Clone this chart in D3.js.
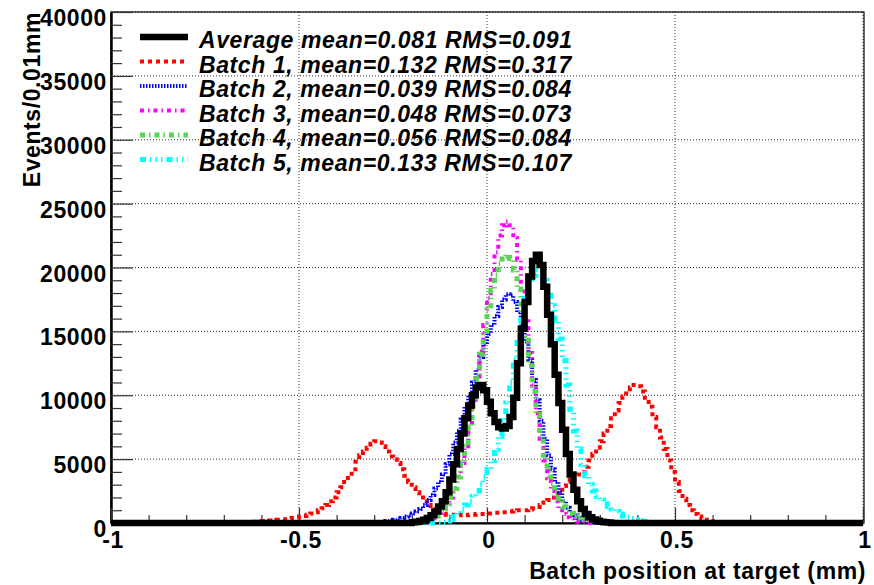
<!DOCTYPE html>
<html>
<head>
<meta charset="utf-8">
<script src="https://cdn.jsdelivr.net/npm/d3@7/dist/d3.min.js"></script>
<style>
  body { margin: 0; background: #fff; }
  svg { display: block; }
  text { font-family: "Liberation Sans", Arial, Helvetica, sans-serif; font-weight: bold; }
</style>
</head>
<body>
<svg id="chart" width="874" height="585"></svg>
<script>
// ---- data: events per 0.01 mm bin, listed from each series' first non-empty bin edge ----
const binWidth = 0.01;
const xDomain = [-1, 1];
const yDomain = [0, 40000];
const xTickValues = [-1, -0.5, 0, 0.5, 1];
const xTickLabels = ["-1", "-0.5", "0", "0.5", "1"];
const yTickValues = [0, 5000, 10000, 15000, 20000, 25000, 30000, 35000, 40000];
const yTickLabels = ["0", "5000", "10000", "15000", "20000", "25000", "30000", "35000", "40000"];
const xTitle = "Batch position at target (mm)";
const yTitle = "Events/0.01mm";

const seriesNames = ["Batch 1", "Batch 2", "Batch 3", "Batch 4", "Batch 5", "Average"];
const legendOrder = ["Average", "Batch 1", "Batch 2", "Batch 3", "Batch 4", "Batch 5"];
const legendLabels = [
  "Average mean=0.081 RMS=0.091",
  "Batch 1, mean=0.132 RMS=0.317",
  "Batch 2, mean=0.039 RMS=0.084",
  "Batch 3, mean=0.048 RMS=0.073",
  "Batch 4, mean=0.056 RMS=0.084",
  "Batch 5, mean=0.133 RMS=0.107"
];

const batch1Start = -0.65;
const batch1Values = [
  50, 50, 80, 100, 100, 150, 150, 200, 200, 250, 300, 300, 350, 400, 450,
  500, 550, 650, 750, 850, 1000, 1150, 1400, 1700, 2000,
  2400, 2800, 3200, 3700, 4200, 4800, 5300, 5600, 5900, 6200,
  6400, 6300, 6000, 5600, 5200, 5000, 4700, 4200, 3700, 3200,
  2800, 2400, 2000, 1700, 1400, 1100, 900, 800, 700, 650,
  650, 600, 600, 650, 600, 650, 650, 700, 700, 700,
  750, 750, 800, 800, 850, 850, 900, 950, 1000, 1000,
  1000, 1050, 1150, 1250, 1400, 1600, 1800, 2000, 2300, 2600,
  2900, 3200, 3400, 3600, 3800, 4000, 4400, 4900, 5400, 5900,
  6400, 7000, 7600, 8200, 8800, 9400, 9900, 10300, 10600, 10800,
  10700, 10300, 9800, 9100, 8300, 7500, 6700, 5800, 4900, 4000,
  3200, 2500, 1900, 1400, 1000, 700, 500, 350, 250, 150,
  100, 60, 30
];

const batch2Start = -0.30;
const batch2Values = [
  50, 80, 100, 150, 200, 250, 300, 400, 500, 600,
  750, 900, 1100, 1400, 1800, 2200, 2700, 3200, 3800, 4600,
  5400, 6300, 7200, 8100, 9100, 10000, 11000, 12000, 13000, 14000,
  14800, 15500, 16200, 16900, 17500, 17900, 17800, 17300, 16500, 15500,
  14200, 12800, 11200, 9600, 8000, 6600, 5300, 4200, 3200, 2400,
  1700, 1200, 850, 600, 400, 250, 150, 100, 50
];

const batch3Start = -0.18;
const batch3Values = [
  50, 100, 200, 350, 550, 800, 1100, 1500, 2000, 2700,
  3600, 4700, 6000, 7500, 9300, 11300, 13400, 15500, 17600, 19500,
  21200, 22500, 23300, 23600, 23300, 22300, 20600, 18300, 15800, 13300,
  10800, 8600, 6600, 4900, 3500, 2500, 1700, 1100, 700, 450,
  300, 180, 100, 50
];

const batch4Start = -0.18;
const batch4Values = [
  50, 100, 200, 350, 550, 800, 1100, 1500, 2000, 2700,
  3600, 4700, 6000, 7600, 9400, 11300, 13200, 15000, 16700, 18200,
  19400, 20300, 20900, 21000, 20700, 19800, 18300, 16400, 14300, 12300,
  10300, 8500, 6800, 5300, 4100, 3100, 2300, 1700, 1250, 950,
  750, 600, 500, 400, 300, 250, 200, 150, 100, 70,
  40
];

const batch5Start = -0.12;
const batch5Values = [
  50, 150, 300, 500, 800, 1100, 1400, 1700, 2100, 2500,
  3000, 3600, 4200, 4900, 5800, 6800, 8000, 9400, 11000, 12800,
  14600, 16200, 17600, 18700, 19400, 19800, 19700, 19000, 18200, 17000,
  15800, 14400, 12700, 10800, 8900, 7200, 5800, 4600, 3700, 3000,
  2500, 2100, 1800, 1500, 1300, 1100, 900, 700, 550, 450,
  350, 250, 180, 120, 80, 50, 30
];

const averageStart = -0.20;
const averageValues = [
  50, 100, 150, 250, 400, 600, 900, 1300, 1700, 2400,
  3400, 4600, 5800, 7000, 8200, 9200, 10000, 10600, 10800, 10400,
  9500, 8600, 7900, 7500, 7400, 7600, 8300, 9800, 12500, 15200,
  17300, 19300, 20500, 21000, 20200, 18500, 16300, 14000, 11600, 9400,
  7300, 5400, 3800, 2600, 1700, 1100, 700, 450, 280, 170,
  100, 60, 30
];

const seriesStarts = [batch1Start, batch2Start, batch3Start, batch4Start, batch5Start, averageStart];
const seriesValues = [batch1Values, batch2Values, batch3Values, batch4Values, batch5Values, averageValues];

// ---- line styles per series ----
const seriesStyles = {
  "Batch 1": { color: "#ff0000", width: 4, dash: "4,4" },
  "Batch 2": { color: "#0000ff", width: 4, dash: "1.5,1.5" },
  "Batch 3": { color: "#ff00ff", width: 4, dash: "4,4,1.5,4" },
  "Batch 4": { color: "#59d454", width: 5, dash: "5,4,1.5,4" },
  "Batch 5": { color: "#00ffff", width: 5, dash: "6,4,1.5,4,1.5,4,1.5,4" },
  "Average": { color: "#000000", width: 6.5, dash: null }
};

// ---- layout ----
const margin = { left: 111, right: 863, top: 12, bottom: 523 };
const fontSize = 23;
const letterSpacing = 0.6;

const svg = d3.select("#chart");
const x = d3.scaleLinear().domain(xDomain).range([margin.left, margin.right]);
const y = d3.scaleLinear().domain(yDomain).range([margin.bottom, margin.top]);

// full 200-bin histogram from a start edge and its listed contents
const nBins = Math.round((xDomain[1] - xDomain[0]) / binWidth);
function fullBins(start, values) {
  const bins = new Array(nBins).fill(0);
  const offset = Math.round((start - xDomain[0]) / binWidth);
  values.forEach((v, i) => { bins[offset + i] = v; });
  return bins;
}

// ---- grid ----
const gridX = xTickValues.filter(v => v > xDomain[0]);
const gridY = yTickValues.filter(v => v > yDomain[0]);
svg.append("g").selectAll("line").data(gridX).join("line")
  .attr("x1", d => x(d)).attr("x2", d => x(d))
  .attr("y1", margin.top).attr("y2", margin.bottom)
  .attr("stroke", "#333").attr("stroke-width", 1).attr("stroke-dasharray", "1,2");
svg.append("g").selectAll("line").data(gridY).join("line")
  .attr("x1", margin.left).attr("x2", margin.right)
  .attr("y1", d => y(d)).attr("y2", d => y(d))
  .attr("stroke", "#333").attr("stroke-width", 1).attr("stroke-dasharray", "1,2");

// ---- frame ----
svg.append("rect")
  .attr("x", margin.left).attr("y", margin.top)
  .attr("width", margin.right - margin.left + 1).attr("height", margin.bottom - margin.top)
  .attr("fill", "none").attr("stroke", "#000").attr("stroke-width", 1.2);

// ---- axes with inward ticks ----
const yAxis = d3.axisRight(y)
  .tickValues(d3.range(yDomain[0], yDomain[1] + 1, 1000))
  .tickSize(0).tickFormat("");
const gy = svg.append("g").attr("transform", `translate(${margin.left},0)`).call(yAxis);
gy.select(".domain").attr("stroke", "#000").attr("stroke-width", 2.5);
gy.selectAll(".tick line")
  .attr("x2", d => (d % 5000 === 0 ? 22 : 11))
  .attr("stroke", "#333").attr("stroke-width", 1.2);

const xAxis = d3.axisTop(x)
  .tickValues(d3.range(-10, 11).map(i => i / 10))
  .tickSize(0).tickFormat("");
const gx = svg.append("g").attr("transform", `translate(0,${margin.bottom})`).call(xAxis);
gx.select(".domain").attr("stroke", "#000").attr("stroke-width", 2);
gx.selectAll(".tick line")
  .attr("y2", d => (Math.abs(d * 2 - Math.round(d * 2)) < 1e-9 ? -15 : -8))
  .attr("stroke", "#333").attr("stroke-width", 1.2);

// ---- tick labels ----
svg.append("g").selectAll("text").data(yTickValues).join("text")
  .attr("x", margin.left - 4).attr("y", d => y(d) + 14)
  .attr("text-anchor", "end").attr("font-size", fontSize)
  .attr("letter-spacing", letterSpacing)
  .text((d, i) => yTickLabels[i]);
svg.append("g").selectAll("text").data(xTickValues).join("text")
  .attr("x", d => x(d) + 2).attr("y", margin.bottom + 25)
  .attr("text-anchor", "middle").attr("font-size", fontSize)
  .attr("letter-spacing", letterSpacing)
  .text((d, i) => xTickLabels[i]);

// ---- axis titles ----
svg.append("text")
  .attr("x", 866).attr("y", 579)
  .attr("text-anchor", "end").attr("font-size", fontSize)
  .attr("letter-spacing", letterSpacing)
  .text(xTitle);
svg.append("text")
  .attr("transform", `translate(40,${margin.top}) rotate(-90)`)
  .attr("text-anchor", "end").attr("font-size", fontSize)
  .attr("letter-spacing", letterSpacing)
  .text(yTitle);

// ---- step histograms ----
const line = d3.line()
  .x(d => x(d[0])).y(d => y(d[1]))
  .curve(d3.curveStepAfter);

const plot = svg.append("g");
seriesNames.forEach((name, si) => {
  const bins = fullBins(seriesStarts[si], seriesValues[si]);
  const pts = bins.map((v, i) => [xDomain[0] + i * binWidth, v]);
  pts.push([xDomain[1], bins[bins.length - 1]]);
  const st = seriesStyles[name];
  plot.append("path")
    .attr("d", line(pts))
    .attr("fill", "none")
    .attr("stroke", st.color)
    .attr("stroke-width", st.width)
    .attr("stroke-dasharray", st.dash)
    .attr("stroke-linejoin", "miter");
});

// ---- legend ----
const legend = svg.append("g");
legendOrder.forEach((name, i) => {
  const cy = 37 + i * 24.5;
  const st = seriesStyles[name];
  legend.append("line")
    .attr("x1", 140).attr("x2", 188).attr("y1", cy).attr("y2", cy)
    .attr("stroke", st.color).attr("stroke-width", st.width)
    .attr("stroke-dasharray", st.dash);
  legend.append("text")
    .attr("x", 199).attr("y", cy + 11)
    .attr("font-size", fontSize).attr("font-style", "italic")
    .attr("letter-spacing", letterSpacing)
    .text(legendLabels[i]);
});
</script>
</body>
</html>
